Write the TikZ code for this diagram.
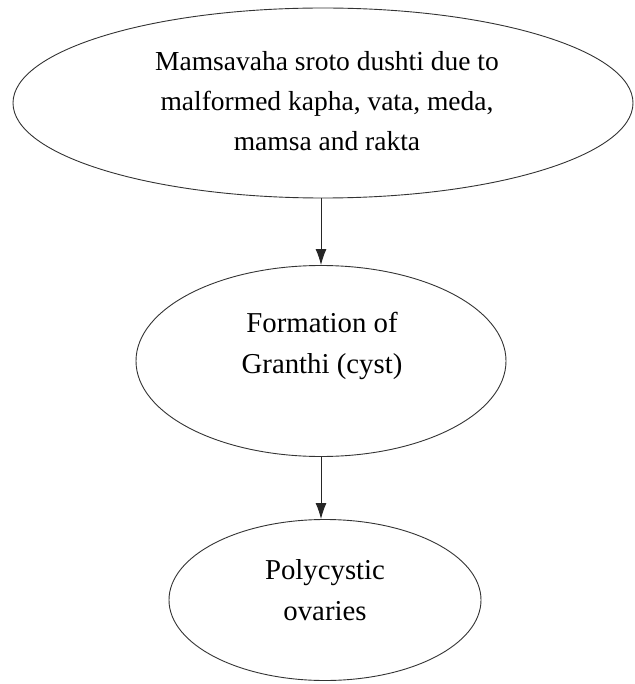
\documentclass[tikz,border=0pt]{standalone}
\usepackage{fontspec}
\setmainfont{Liberation Serif}
\usetikzlibrary{shapes.geometric,arrows.meta}
\begin{document}
\begin{tikzpicture}[x=1pt,y=-1pt,
  oval/.style={draw=black!80, line width=0.9pt, shape=ellipse, inner sep=0pt},
  label/.style={align=center, inner sep=0pt, font=\fontsize{27.5}{40}\selectfont},
  biglabel/.style={label, font=\fontsize{28.8}{41}\selectfont},
  arrow/.style={draw=black!85, line width=1pt, -{Latex[length=16pt,width=11pt]}}]
\useasboundingbox (0,0) rectangle (634,684);
\node[oval, minimum width=620pt, minimum height=190pt] (e1) at (323,103) {};
\node[oval, minimum width=370pt, minimum height=191pt] (e2) at (321,361) {};
\node[oval, minimum width=312pt, minimum height=161pt] (e3) at (325,600) {};
\node[label] (t1) at (327,101.5) {Mamsavaha sroto dushti due to\\malformed kapha, vata, meda,\\mamsa and rakta};
\node[biglabel] (t2) at (322,346) {Formation of\\Granthi (cyst)};
\node[biglabel] (t3) at (325,590.5) {Polycystic\\ovaries};
\draw[arrow] (e2.north |- e1.south) -- (e2.north);
\draw[arrow] (e2.south) -- (e2.south |- e3.north);
\end{tikzpicture}
\end{document}
